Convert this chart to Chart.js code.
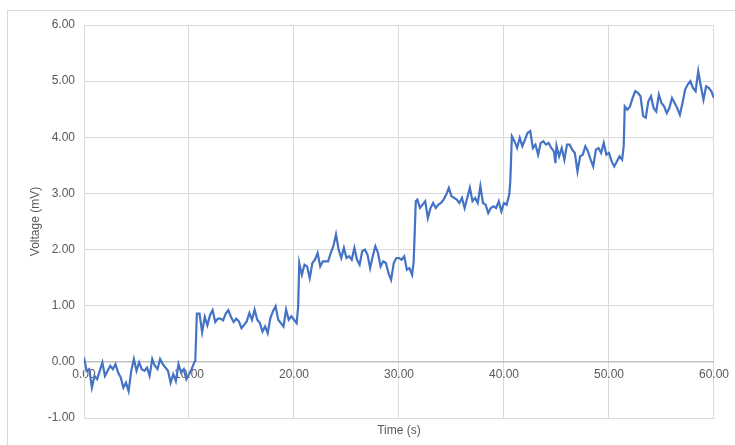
<!DOCTYPE html>
<html>
<head>
<meta charset="utf-8">
<script src="https://cdn.jsdelivr.net/npm/chart.js@4/dist/chart.umd.min.js"></script>
<style>
  html, body { margin: 0; padding: 0; background: #fff; }
  #wrap { width: 735px; height: 445px; position: relative; }
</style>
</head>
<body>
<div id="wrap"><canvas id="voltChart"></canvas></div>
<script>
  // data
  const timeS = [
    0, 0.25, 0.5, 0.75, 1, 1.25, 1.5, 1.75, 2, 2.25, 2.5, 2.75, 3, 3.25, 3.5, 3.75, 4, 4.25, 4.5, 4.75,
    5, 5.25, 5.5, 5.75, 6, 6.25, 6.5, 6.75, 7, 7.25, 7.5, 7.75, 8, 8.25, 8.5, 8.75, 9, 9.25, 9.5, 9.75,
    10, 10.25, 10.5, 10.6, 10.75, 11, 11.25, 11.5, 11.75, 12, 12.25, 12.5, 12.75, 13, 13.25, 13.5, 13.75,
    14, 14.25, 14.5, 14.75, 15, 15.25, 15.5, 15.75, 16, 16.25, 16.5, 16.75, 17, 17.25, 17.5, 17.75,
    18, 18.25, 18.5, 18.75, 19, 19.25, 19.5, 19.75, 20, 20.25, 20.4, 20.5, 20.75, 21, 21.25, 21.5, 21.75,
    22, 22.25, 22.5, 22.75, 23, 23.25, 23.5, 23.75, 24, 24.25, 24.5, 24.75, 25, 25.25, 25.5, 25.75,
    26, 26.25, 26.5, 26.75, 27, 27.25, 27.5, 27.75, 28, 28.25, 28.5, 28.75, 29, 29.25, 29.5, 29.75,
    30, 30.25, 30.5, 30.75, 31, 31.25, 31.4, 31.5, 31.6, 31.75, 32, 32.25, 32.5, 32.75, 33, 33.25, 33.5, 33.75,
    34, 34.25, 34.5, 34.75, 35, 35.25, 35.5, 35.75, 36, 36.25, 36.5, 36.75, 37, 37.25, 37.5, 37.75,
    38, 38.25, 38.5, 38.75, 39, 39.25, 39.5, 39.75, 40, 40.25, 40.5, 40.6, 40.75, 41, 41.25, 41.5, 41.75,
    42, 42.25, 42.5, 42.75, 43, 43.25, 43.5, 43.75, 44, 44.25, 44.5, 44.75, 44.9, 45, 45.25, 45.5, 45.75,
    46, 46.25, 46.5, 46.75, 47, 47.25, 47.5, 47.75, 48, 48.25, 48.5, 48.75, 49, 49.25, 49.5, 49.75,
    50, 50.25, 50.5, 50.75, 51, 51.25, 51.4, 51.5, 51.75, 52, 52.25, 52.5, 52.75, 53, 53.25, 53.5, 53.75,
    54, 54.25, 54.5, 54.75, 55, 55.25, 55.5, 55.75, 56, 56.25, 56.5, 56.75, 57, 57.25, 57.5, 57.75,
    58, 58.25, 58.5, 58.75, 59, 59.25, 59.5, 59.75, 60
  ];
  const voltageMV = [
    0.08, -0.16, -0.13, -0.46, -0.25, -0.31, -0.16, -0.01, -0.25, -0.16, -0.07, -0.13, -0.04, -0.19, -0.28, -0.46, -0.37, -0.52, -0.16, 0.05,
    -0.16, -0.01, -0.13, -0.16, -0.10, -0.25, 0.05, -0.07, -0.13, 0.05, -0.04, -0.10, -0.16, -0.37, -0.22, -0.34, -0.04, -0.19, -0.13, -0.31,
    -0.22, -0.13, -0.01, 0.02, 0.86, 0.86, 0.53, 0.80, 0.65, 0.83, 0.92, 0.71, 0.77, 0.77, 0.74, 0.86, 0.92,
    0.80, 0.71, 0.77, 0.72, 0.60, 0.66, 0.72, 0.87, 0.75, 0.93, 0.75, 0.69, 0.54, 0.63, 0.51, 0.78,
    0.90, 0.99, 0.75, 0.69, 0.63, 0.93, 0.75, 0.81, 0.75, 0.69, 0.99, 1.76, 1.55, 1.73, 1.70, 1.49, 1.76,
    1.82, 1.94, 1.70, 1.79, 1.79, 1.79, 1.94, 2.06, 2.27, 2.00, 1.85, 2.03, 1.85, 1.88, 1.82, 2.03,
    1.82, 1.73, 1.97, 2.00, 1.91, 1.67, 1.88, 2.06, 1.94, 1.70, 1.79, 1.76, 1.58, 1.46, 1.76, 1.85,
    1.85, 1.82, 1.88, 1.64, 1.67, 1.55, 1.79, 2.32, 2.86, 2.89, 2.74, 2.80, 2.86, 2.56, 2.74, 2.83, 2.74, 2.80,
    2.83, 2.89, 2.98, 3.10, 2.95, 2.92, 2.89, 2.83, 2.92, 2.74, 2.92, 3.10, 2.86, 2.92, 2.83, 3.13,
    2.83, 2.80, 2.65, 2.74, 2.77, 2.74, 2.86, 2.68, 2.83, 2.80, 2.98, 3.21, 4.02, 3.93, 3.81, 3.99, 3.84,
    3.96, 4.08, 4.11, 3.81, 3.87, 3.69, 3.90, 3.93, 3.87, 3.90, 3.81, 3.75, 3.54, 3.85, 3.66, 3.81, 3.60,
    3.87, 3.87, 3.78, 3.72, 3.39, 3.66, 3.69, 3.84, 3.75, 3.60, 3.48, 3.78, 3.81, 3.72, 3.90, 3.69,
    3.72, 3.57, 3.48, 3.57, 3.66, 3.60, 3.84, 4.55, 4.49, 4.55, 4.70, 4.82, 4.79, 4.73, 4.38, 4.35, 4.64,
    4.73, 4.52, 4.46, 4.76, 4.61, 4.55, 4.43, 4.52, 4.70, 4.61, 4.52, 4.40, 4.61, 4.85, 4.94, 5.00,
    4.88, 4.82, 5.18, 4.91, 4.67, 4.91, 4.88, 4.82, 4.70
  ];
  const xTicks = [0, 10, 20, 30, 40, 50, 60];
  const yTicks = [-1, 0, 1, 2, 3, 4, 5, 6];

  const gridGray = '#d9d9d9';
  const textGray = '#595959';
  const font = { family: "'Liberation Sans Narrow', 'Liberation Sans', sans-serif", size: 12 };

  const points = timeS.map((t, i) => ({ x: t, y: voltageMV[i] }));

  // light frame round the whole chart, like the spreadsheet chart box
  const frame = {
    id: 'frame',
    beforeDraw(chart) {
      const ctx = chart.ctx;
      ctx.save();
      ctx.fillStyle = '#fff';
      ctx.fillRect(0, 0, chart.width, chart.height);
      ctx.strokeStyle = gridGray;
      ctx.lineWidth = 1;
      ctx.strokeRect(7.5, 10.5, 900, 600);
      ctx.restore();
    }
  };

  new Chart(document.getElementById('voltChart'), {
    type: 'line',
    data: {
      datasets: [{
        data: points,
        borderColor: '#4472C4',
        borderWidth: 2.2,
        pointRadius: 0,
        tension: 0,
        fill: false
      }]
    },
    options: {
      responsive: true,
      maintainAspectRatio: false,
      animation: false,
      events: [],
      layout: { padding: { top: 25, right: 17, left: 0, bottom: 0 } },
      plugins: { legend: { display: false }, tooltip: { enabled: false } },
      scales: {
        x: {
          type: 'linear',
          min: 0, max: 60,
          position: { y: 0 },
          afterBuildTicks(s) { s.ticks = xTicks.map(v => ({ value: v })); },
          ticks: { color: textGray, font, padding: 6, maxRotation: 0,
                   callback: v => v.toFixed(2) },
          grid: { color: gridGray, drawTicks: false },
          border: { color: '#bfbfbf', width: 1.5 }
        },
        xTitle: {
          type: 'linear',
          axis: 'x',
          min: 0, max: 60,
          position: 'bottom',
          afterFit(s) { s.height = 27; },
          ticks: { display: false },
          grid: { display: false, drawTicks: false },
          border: { display: false },
          title: { display: true, text: 'Time (s)', color: textGray, font, padding: { top: 0, bottom: 7 } }
        },
        y: {
          min: -1, max: 6,
          afterBuildTicks(s) { s.ticks = yTicks.map(v => ({ value: v })); },
          afterFit(s) { s.width = 84; },
          ticks: { color: textGray, font, padding: 9, callback: v => v.toFixed(2) },
          grid: { color: gridGray, drawTicks: false },
          border: { color: gridGray },
          title: { display: true, text: 'Voltage (mV)', color: textGray, font, padding: { top: 28, bottom: 0 } }
        }
      }
    },
    plugins: [frame]
  });
</script>
</body>
</html>
